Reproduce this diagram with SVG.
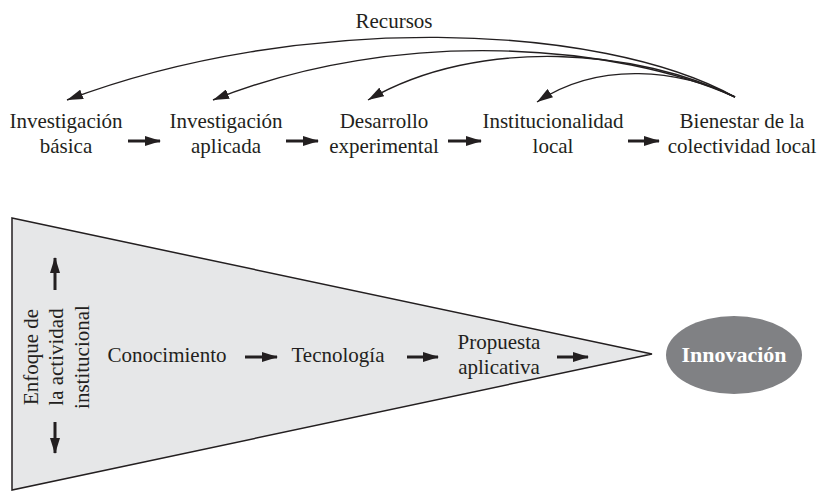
<svg xmlns="http://www.w3.org/2000/svg" width="821" height="491" viewBox="0 0 821 491">
<defs>
<style>
.t{font-size:21px;fill:#231f20;text-anchor:middle}
.b{font-weight:bold;fill:#fff;font-size:22px;text-anchor:middle}
.thick{stroke:#231f20;stroke-width:3;fill:none}
.curve{stroke:#231f20;stroke-width:1.4;fill:none}
</style>
<marker id="ah" viewBox="0 0 16 10" refX="15" refY="5" markerWidth="16" markerHeight="10" markerUnits="userSpaceOnUse" orient="auto">
<path d="M0,0 L16,5 L0,10 Z" fill="#231f20"/>
</marker>
<marker id="ac" viewBox="0 0 16 10" refX="16" refY="5" markerWidth="16" markerHeight="10" markerUnits="userSpaceOnUse" orient="auto">
<path d="M0,0 L16,5 L0,10 Z" fill="#231f20"/>
</marker>
</defs>
<rect width="821" height="491" fill="#fff"/>
<g id="recursos"><text class="t" font-family="Liberation Serif" x="394" y="28">Recursos</text></g>
<g id="n1"><text class="t" font-family="Liberation Serif" x="66" y="128">Investigación</text><text class="t" font-family="Liberation Serif" x="66" y="153">básica</text></g>
<g id="n2"><text class="t" font-family="Liberation Serif" x="226" y="128">Investigación</text><text class="t" font-family="Liberation Serif" x="226" y="153">aplicada</text></g>
<g id="n3"><text class="t" font-family="Liberation Serif" x="384" y="128">Desarrollo</text><text class="t" font-family="Liberation Serif" x="384" y="153">experimental</text></g>
<g id="n4"><text class="t" font-family="Liberation Serif" x="553" y="128">Institucionalidad</text><text class="t" font-family="Liberation Serif" x="553" y="153">local</text></g>
<g id="n5"><text class="t" font-family="Liberation Serif" x="742" y="128">Bienestar de la</text><text class="t" font-family="Liberation Serif" x="742" y="153">colectividad local</text></g>
<g id="funnel"><path d="M12,218 L652,354 L12,490 Z" fill="#e6e7e8" stroke="#231f20" stroke-width="1.5"/></g>
<g id="enfoque"><text class="t" font-family="Liberation Serif" transform="translate(38,357) rotate(-90)">Enfoque de</text><text class="t" font-family="Liberation Serif" transform="translate(63,357) rotate(-90)">la actividad</text><text class="t" font-family="Liberation Serif" transform="translate(89,357) rotate(-90)">institucional</text></g>
<g id="conocimiento"><text class="t" font-family="Liberation Serif" x="167" y="362">Conocimiento</text></g>
<g id="tecnologia"><text class="t" font-family="Liberation Serif" x="338" y="362">Tecnología</text></g>
<g id="propuesta"><text class="t" font-family="Liberation Serif" x="499" y="349">Propuesta</text><text class="t" font-family="Liberation Serif" x="499" y="374">aplicativa</text></g>
<g id="innovacion"><ellipse cx="734" cy="355" rx="68" ry="39" fill="#808184"/><text class="b" font-family="Liberation Serif" x="734" y="362">Innovación</text></g>
<g id="connectors">
<path class="curve" marker-end="url(#ac)" d="M735,97 C600,22 300,12 67,100"/>
<path class="curve" marker-end="url(#ac)" d="M735,97 C620,45 400,25 213,100"/>
<path class="curve" marker-end="url(#ac)" d="M735,97 C640,50 480,35 368,100"/>
<path class="curve" marker-end="url(#ac)" d="M735,97 C680,70 600,60 537,102"/>
<path class="thick" marker-end="url(#ah)" d="M128,141 L160,141"/>
<path class="thick" marker-end="url(#ah)" d="M286,141 L318,141"/>
<path class="thick" marker-end="url(#ah)" d="M448,141 L481,141"/>
<path class="thick" marker-end="url(#ah)" d="M628,141 L659,141"/>
<path class="thick" marker-end="url(#ah)" d="M245,357 L277,357"/>
<path class="thick" marker-end="url(#ah)" d="M407,357 L438,357"/>
<path class="thick" marker-end="url(#ah)" d="M557,357 L588,357"/>
<path class="thick" marker-end="url(#ah)" d="M55,290 L55,258"/>
<path class="thick" marker-end="url(#ah)" d="M55,422 L55,453"/>
</g>
</svg>
